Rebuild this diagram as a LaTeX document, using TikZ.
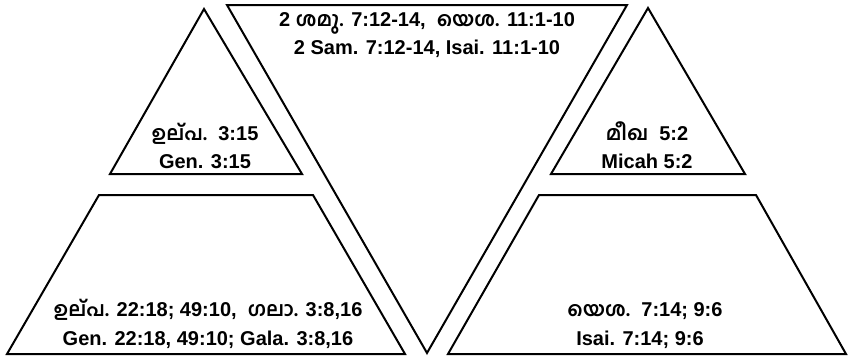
\documentclass[tikz,border=0pt]{standalone}
\usepackage{fontspec}
\setmainfont{Liberation Sans}
\newfontfamily\malfont{Hind Kochi}[Script=Malayalam, Scale=1.0]
\usetikzlibrary{positioning}

\begin{document}
\begin{tikzpicture}[
        x=1pt, y=-1pt,
        every node/.style={font=\fontsize{20}{24}\selectfont\bfseries},
        block/.style={draw, line width=2pt, line join=miter},
        ref/.style={align=center, inner sep=0pt, anchor=base}
    ]
        \useasboundingbox (0,0) rectangle (848,359);

        % Small triangles
        \draw[block] (204,9) -- (302,174) -- (110,174) -- cycle;
        \draw[block] (648,8) -- (745,174) -- (551,174) -- cycle;

        % Inverted triangle in the middle
        \draw[block] (227,5) -- (627,5) -- (427,353) -- cycle;

        % Trapezoids
        \draw[block] (99,195) -- (313,195) -- (405,354) -- (7,354) -- cycle;
        \draw[block] (539,195) -- (756,195) -- (846,354) -- (448,354) -- cycle;

        % Labels
        \node[ref] (top1) at (427,26) {2 {\malfont ശമു.} 7:12-14,\ \ {\malfont യെശ.} 11:1-10};
        \node[ref] (top2) at (427,54) {2 Sam. 7:12-14, Isai. 11:1-10};

        \node[ref] (gen1) at (205,140) {{\malfont ഉല്പ.}\ \ 3:15};
        \node[ref] (gen2) at (205,168) {Gen. 3:15};

        \node[ref] (mic1) at (647,140) {{\malfont മീഖ}\ \ 5:2};
        \node[ref] (mic2) at (647,168) {Micah 5:2};

        \node[ref] (abr1) at (208,316) {{\malfont ഉല്പ.} 22:18; 49:10,\ \ {\malfont ഗലാ.} 3:8,16};
        \node[ref] (abr2) at (208,345) {Gen. 22:18, 49:10; Gala. 3:8,16};

        \node[ref] (isa1) at (645,316) {{\malfont യെശ.}\ \ 7:14; 9:6};
        \node[ref] (isa2) at (640,345) {Isai. 7:14; 9:6};
    \end{tikzpicture}
\end{document}
